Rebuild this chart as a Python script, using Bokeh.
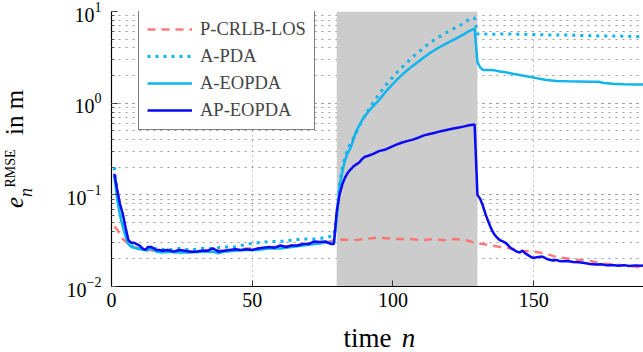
from bokeh.plotting import figure
from bokeh.models import Label, Legend, LegendItem, LogTicker
from bokeh.layouts import row, column
from bokeh.embed import file_html
from bokeh.resources import INLINE

# ---- data ----
shade_start = 80
shade_end = 130

pc_n = [1, 2, 3, 4, 5, 6, 7, 8, 10, 12, 14, 16, 18, 20, 22, 24, 26, 28, 32, 36, 40, 44, 48, 52, 56, 60,
        64, 68, 72, 76, 79, 82, 86, 90, 94, 98, 102, 106, 110, 114, 118, 122, 126, 129, 132, 135, 138,
        142, 146, 150, 154, 158, 162, 166, 170, 174, 178, 182, 186, 189]
pc_v = [0.045, 0.042, 0.037, 0.033, 0.031, 0.029, 0.028, 0.027, 0.026, 0.025, 0.025, 0.024, 0.0245,
        0.025, 0.0235, 0.024, 0.025, 0.024, 0.0245, 0.025, 0.0245, 0.025, 0.026, 0.026, 0.027, 0.027,
        0.028, 0.029, 0.029, 0.030, 0.032, 0.0325, 0.032, 0.033, 0.034, 0.0335, 0.033, 0.033, 0.032,
        0.033, 0.032, 0.033, 0.032, 0.030, 0.029, 0.028, 0.027, 0.026, 0.0245, 0.024, 0.023, 0.021,
        0.0202, 0.0195, 0.019, 0.0178, 0.0174, 0.017, 0.0165, 0.0162]

pda_n = [1, 2, 3, 4, 5, 6, 7, 8, 10, 12, 14, 16, 20, 24, 28, 32, 36, 40, 44, 48, 52, 56, 60, 64, 68,
         72, 76, 79, 80, 81, 82, 83, 84, 85, 87, 89, 91, 93, 95, 98, 101, 104, 107, 110, 113, 116,
         119, 122, 125, 127, 129, 130, 135, 140, 145, 150, 155, 160, 165, 170, 175, 180, 185, 189]
pda_v = [0.2, 0.11, 0.07, 0.05, 0.038, 0.031, 0.028, 0.027, 0.026, 0.025, 0.025, 0.026, 0.025, 0.026,
         0.025, 0.026, 0.026, 0.027, 0.027, 0.029, 0.030, 0.031, 0.031, 0.032, 0.033, 0.033, 0.034,
         0.036, 0.06, 0.13, 0.2, 0.26, 0.32, 0.37, 0.48, 0.65, 0.82, 1.02, 1.25, 1.65, 2.1, 2.6, 3.2,
         3.8, 4.55, 5.2, 5.9, 6.6, 7.4, 8.2, 8.5, 5.7, 5.65, 5.7, 5.65, 5.6, 5.55, 5.55, 5.5, 5.45,
         5.4, 5.4, 5.35, 5.3]

ae_n = [1, 2, 3, 4, 5, 6, 7, 8, 9, 10, 12, 14, 16, 18, 20, 24, 28, 32, 36, 38, 40, 44, 48, 52, 56,
        60, 64, 68, 72, 76, 79, 80, 81, 82, 83, 84, 85, 87, 89, 91, 93, 95, 98, 101, 104, 107, 110,
        113, 116, 119, 122, 125, 127, 129, 130, 131, 132, 134, 136, 138, 140, 143, 146, 150, 154,
        158, 162, 166, 170, 173, 175, 178, 182, 186, 189]
ae_v = [0.16, 0.09, 0.06, 0.045, 0.035, 0.029, 0.027, 0.0265, 0.026, 0.0255, 0.025, 0.026, 0.024,
        0.0235, 0.024, 0.0235, 0.0235, 0.024, 0.024, 0.023, 0.024, 0.0245, 0.025, 0.025, 0.026, 0.026,
        0.027, 0.028, 0.029, 0.030, 0.030, 0.055, 0.12, 0.18, 0.24, 0.29, 0.33, 0.50, 0.65, 0.79,
        0.93, 1.08, 1.4, 1.75, 2.15, 2.55, 3.0, 3.5, 4.0, 4.5, 5.0, 5.6, 6.1, 6.5, 2.8, 2.45, 2.3,
        2.3, 2.28, 2.22, 2.17, 2.08, 2.0, 1.9, 1.8, 1.75, 1.73, 1.72, 1.71, 1.71, 1.66, 1.63, 1.61,
        1.6, 1.6]

ap_n = [1, 2, 3, 4, 5, 6, 7, 8, 9, 10, 11, 12, 13, 14, 15, 16, 17, 18, 20, 22, 24, 26, 28, 30, 32,
        34, 36, 37, 38, 40, 42, 44, 46, 48, 50, 52, 54, 56, 58, 60, 62, 64, 66, 68, 70, 72, 74, 76,
        78, 79, 80, 81, 82, 83, 84, 85, 86, 87, 88, 89, 90, 91, 93, 95, 97, 99, 101, 103, 105, 107,
        109, 111, 113, 115, 117, 119, 121, 123, 125, 127, 129, 130, 131, 132, 133, 134, 135, 136,
        137, 138, 139, 140, 141, 142, 143, 144, 145, 146, 147, 148, 149, 150, 151, 152, 153, 154,
        155, 156, 157, 158, 159, 160, 162, 164, 166, 168, 170, 172, 174, 176, 178, 180, 182, 184,
        186, 188, 189]
ap_v = [0.17, 0.115, 0.08, 0.062, 0.044, 0.032, 0.030, 0.030, 0.029, 0.028, 0.026, 0.025, 0.027,
        0.027, 0.026, 0.025, 0.025, 0.0245, 0.025, 0.024, 0.025, 0.0245, 0.024, 0.024, 0.0245,
        0.0245, 0.026, 0.025, 0.024, 0.0245, 0.025, 0.0255, 0.025, 0.0255, 0.025, 0.026, 0.0265,
        0.027, 0.0265, 0.028, 0.027, 0.028, 0.028, 0.029, 0.029, 0.031, 0.0305, 0.031, 0.029, 0.029,
        0.065, 0.10, 0.13, 0.155, 0.175, 0.19, 0.205, 0.215, 0.225, 0.245, 0.26, 0.265, 0.28, 0.30,
        0.31, 0.33, 0.35, 0.37, 0.385, 0.40, 0.42, 0.445, 0.46, 0.475, 0.495, 0.51, 0.525, 0.54,
        0.555, 0.575, 0.585, 0.10, 0.09, 0.075, 0.06, 0.05, 0.042, 0.037, 0.034, 0.032, 0.031, 0.030,
        0.028, 0.026, 0.025, 0.024, 0.0235, 0.0245, 0.023, 0.022, 0.021, 0.0205, 0.0208, 0.021,
        0.0212, 0.0205, 0.0198, 0.0195, 0.0192, 0.0195, 0.019, 0.0188, 0.019, 0.0185, 0.0184, 0.018,
        0.0176, 0.0174, 0.0175, 0.017, 0.0172, 0.0168, 0.0171, 0.0167, 0.017, 0.0168, 0.017]

series_names = ["P-CRLB-LOS", "A-PDA", "A-EOPDA", "AP-EOPDA"]
x_ticks = [0, 50, 100, 150]

SERIF = "Liberation Serif"
C_RED = "#ff6b6b"
C_CYAN = "#10b4ee"
C_BLUE = "#0a0af5"

YLAB_W = 45
MAIN_H = 322
FRAME_BOTTOM = 286   # canvas y of the plot frame's bottom edge

p = figure(width=643 - YLAB_W, height=MAIN_H, x_range=(0, 189), y_range=(1e-2, 1e1),
           y_axis_type="log", output_backend="svg", toolbar_location=None,
           min_border_left=111 - YLAB_W, min_border_right=0, min_border_top=11,
           min_border_bottom=MAIN_H - FRAME_BOTTOM)
p.outline_line_color = None
p.background_fill_color = "white"
p.border_fill_color = "white"

# shaded interval
p.quad(left=[shade_start], right=[shade_end], bottom=[1e-2], top=[1e1],
       fill_color="#cccccc", line_color=None)

r_pc = p.line(pc_n, pc_v, line_color=C_RED, line_width=2.5, line_dash="8 6", line_alpha=0.9)
r_pda = p.line(pda_n, pda_v, line_color=C_CYAN, line_width=3, line_dash="3 5")
r_ae = p.line(ae_n, ae_v, line_color=C_CYAN, line_width=2.5)
r_ap = p.line(ap_n, ap_v, line_color=C_BLUE, line_width=2.5)

# axes
p.xaxis.ticker = x_ticks
p.yaxis.ticker = LogTicker(num_minor_ticks=10)
for ax in (p.xaxis[0], p.yaxis[0]):
    ax.axis_line_color = "black"
    ax.axis_line_width = 1.2
    ax.major_tick_in = 6
    ax.major_tick_out = 0
    ax.minor_tick_in = 3
    ax.minor_tick_out = 0
    ax.major_tick_line_color = "#333333"
    ax.minor_tick_line_color = "#555555"
    ax.major_label_text_font = SERIF
    ax.major_label_text_font_size = "20px"
    ax.major_label_text_color = "black"
p.xaxis.major_label_standoff = 6
p.yaxis.major_label_standoff = 10

# grids
p.xgrid.grid_line_color = "#888888"
p.xgrid.grid_line_dash = "1 4"
p.xgrid.grid_line_width = 1
p.ygrid.grid_line_color = "#999999"
p.ygrid.grid_line_dash = "2 5"
p.ygrid.minor_grid_line_color = "#999999"
p.ygrid.minor_grid_line_dash = "2 5"

# legend
legend = Legend(items=[LegendItem(label=series_names[0], renderers=[r_pc]),
                       LegendItem(label=series_names[1], renderers=[r_pda]),
                       LegendItem(label=series_names[2], renderers=[r_ae]),
                       LegendItem(label=series_names[3], renderers=[r_ap])],
                location=(27, 156), margin=0, padding=8, spacing=5,
                glyph_width=45, glyph_height=22, label_height=22, label_standoff=8,
                label_text_font=SERIF, label_text_font_size="18.5px",
                border_line_color="black", border_line_width=1,
                background_fill_color="white", background_fill_alpha=1)
p.add_layout(legend, "center")

lab = dict(x_units="screen", y_units="screen", text_font=SERIF, text_color="black",
           text_align="center", text_baseline="middle")

# y-axis label panel (its frame is aligned with the main frame: y measured from FRAME_BOTTOM)
ylab = figure(width=YLAB_W, height=MAIN_H, x_axis_type=None, y_axis_type=None,
              output_backend="svg", toolbar_location=None, min_border=0,
              x_range=(0, 1), y_range=(0, 1))
ylab.outline_line_color = None
ylab.grid.visible = False
ylab.add_layout(Label(x=14, y=FRAME_BOTTOM - 202, text="e", angle=1.5708, text_font_size="25px",
                      text_font_style="italic", **lab))
ylab.add_layout(Label(x=25, y=FRAME_BOTTOM - 192, text="n", angle=1.5708, text_font_size="18px",
                      text_font_style="italic", **lab))
ylab.add_layout(Label(x=10, y=FRAME_BOTTOM - 168, text="RMSE", angle=1.5708,
                      text_font_size="14px", **lab))
ylab.add_layout(Label(x=14, y=FRAME_BOTTOM - 112, text="in m", angle=1.5708,
                      text_font_size="25px", **lab))

# x-axis label panel
XLAB_H = 352 - MAIN_H
xlab = figure(width=643, height=XLAB_H, x_axis_type=None, y_axis_type=None,
              output_backend="svg", toolbar_location=None, min_border=0,
              x_range=(0, 1), y_range=(0, 1))
xlab.outline_line_color = None
xlab.grid.visible = False
xlab.add_layout(Label(x=367, y=352 - 337, text="time", text_font_size="27px", **lab))
xlab.add_layout(Label(x=408, y=352 - 337, text="n", text_font_size="27px",
                      text_font_style="italic", **lab))

layout = column(row(ylab, p, spacing=0), xlab, spacing=0)
open("out.html", "w").write(file_html(layout, INLINE))
